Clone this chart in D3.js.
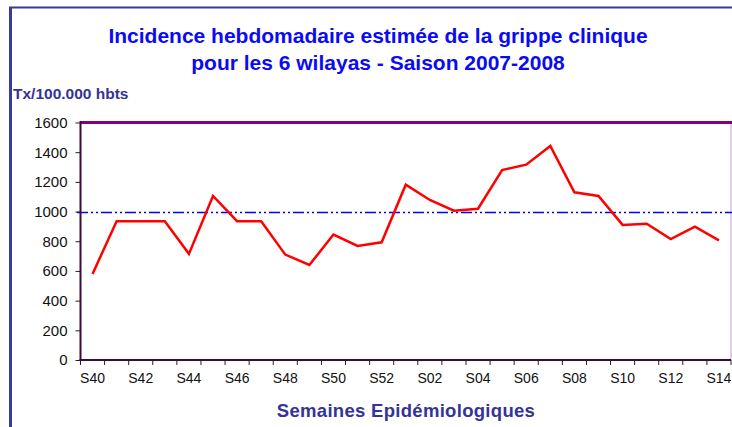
<!DOCTYPE html>
<html>
<head>
<meta charset="utf-8">
<script src="https://cdn.jsdelivr.net/npm/d3@7/dist/d3.min.js"></script>
<style>
  html, body { margin: 0; padding: 0; background: #fff; overflow: hidden; }
  svg { display: block; }
</style>
</head>
<body>
<script>
const weeks = ["S40","S41","S42","S43","S44","S45","S46","S47","S48","S49","S50","S51","S52",
               "S01","S02","S03","S04","S05","S06","S07","S08","S09","S10","S11","S12","S13","S14"];
const incidence = [580, 935, 935, 935, 715, 1105, 935, 935, 710, 640, 845, 768, 793,
                   1181, 1078, 1006, 1019, 1280, 1316, 1442, 1130, 1105, 910, 918, 815, 898, 806];
const threshold = 1000;
const yTicks = [0, 200, 400, 600, 800, 1000, 1200, 1400, 1600];
const titleLines = ["Incidence hebdomadaire estimée de la grippe clinique", "pour les 6 wilayas - Saison 2007-2008"];
const yTitle = "Tx/100.000 hbts";
const xTitle = "Semaines Epidémiologiques";

(function () {
const W = 732, H = 427;
const pLeft = 80.5, pRight = 731, pTop = 122.5, pBottom = 360;
const font = "'Liberation Sans', Arial, sans-serif";

const svg = d3.select("body").append("svg").attr("width", W).attr("height", H);

// outer frame
svg.append("line").attr("x1", 10.5).attr("x2", 10.5).attr("y1", 7).attr("y2", H)
  .attr("stroke", "#3a3a9a").attr("stroke-width", 3);
svg.append("line").attr("x1", 9).attr("x2", W).attr("y1", 7.5).attr("y2", 7.5)
  .attr("stroke", "#3a3a9a").attr("stroke-width", 2);

const x = d3.scaleBand().domain(weeks).range([pLeft, pRight]).padding(0);
const y = d3.scaleLinear().domain([0, 1600]).range([pBottom, pTop]);

// titles
svg.append("text").attr("x", 378).attr("y", 43).attr("text-anchor", "middle")
  .attr("font-family", font).attr("font-weight", "bold").attr("font-size", 21)
  .attr("fill", "#0a0af5").text(titleLines[0]);
svg.append("text").attr("x", 378).attr("y", 69.5).attr("text-anchor", "middle")
  .attr("font-family", font).attr("font-weight", "bold").attr("font-size", 21)
  .attr("fill", "#0a0af5").text(titleLines[1]);

svg.append("text").attr("x", 13).attr("y", 98.5)
  .attr("font-family", font).attr("font-weight", "bold").attr("font-size", 15.5)
  .attr("fill", "#333399").text(yTitle);

svg.append("text").attr("x", 406).attr("y", 417).attr("text-anchor", "middle")
  .attr("font-family", font).attr("font-weight", "bold").attr("font-size", 18.5)
  .attr("fill", "#333399").attr("letter-spacing", 0.3).text(xTitle);

// plot frame: right light purple, top purple
svg.append("line").attr("x1", pRight).attr("x2", pRight).attr("y1", pTop).attr("y2", pBottom)
  .attr("stroke", "#c89ac8").attr("stroke-width", 1);
svg.append("line").attr("x1", pLeft).attr("x2", W).attr("y1", pTop).attr("y2", pTop)
  .attr("stroke", "#800080").attr("stroke-width", 3);

// y axis
const yAxis = svg.append("g").attr("transform", `translate(${pLeft},0)`)
  .call(d3.axisLeft(y).tickValues(yTicks).tickFormat(d3.format("d")).tickSize(5).tickPadding(8));
yAxis.select(".domain").remove();
yAxis.selectAll(".tick line").attr("stroke", "#222");
yAxis.selectAll(".tick text").attr("font-family", font).attr("font-size", 15).attr("fill", "#111");

// x axis labels (every other week)
const xAxis = svg.append("g").attr("transform", `translate(0,${pBottom})`)
  .call(d3.axisBottom(x).tickSize(0).tickPadding(13)
    .tickFormat((d, i) => i % 2 === 0 ? d : ""));
xAxis.select(".domain").remove();
xAxis.selectAll(".tick text").attr("font-family", font).attr("font-size", 14).attr("fill", "#111");

// x tick marks at category boundaries
const bounds = weeks.map(w => x(w)).concat([x(weeks[weeks.length - 1]) + x.bandwidth()]);
svg.append("g").selectAll("line").data(bounds).join("line")
  .attr("x1", d => d).attr("x2", d => d).attr("y1", pBottom).attr("y2", pBottom + 5)
  .attr("stroke", "#222").attr("stroke-width", 1);

// threshold line
const ty = Math.round(y(threshold)) + 0.5;
svg.append("line").attr("x1", 77).attr("x2", W).attr("y1", ty).attr("y2", ty)
  .attr("stroke", "#0000ff").attr("stroke-width", 1.3).attr("stroke-dasharray", "11,3,2,3,2,3");

// axis lines (left and bottom)
svg.append("line").attr("x1", pLeft).attr("x2", pLeft).attr("y1", pTop - 1.5).attr("y2", pBottom + 1)
  .attr("stroke", "#3a0a3a").attr("stroke-width", 2);
svg.append("line").attr("x1", pLeft - 1).attr("x2", pRight).attr("y1", pBottom).attr("y2", pBottom)
  .attr("stroke", "#3a0a3a").attr("stroke-width", 2);

// data line
const line = d3.line()
  .x((d, i) => x(weeks[i]) + x.bandwidth() / 2)
  .y(d => y(d));
svg.append("path").datum(incidence).attr("d", line)
  .attr("fill", "none").attr("stroke", "#ff0000").attr("stroke-width", 2.5)
  .attr("stroke-linejoin", "miter");
})();
</script>
</body>
</html>
